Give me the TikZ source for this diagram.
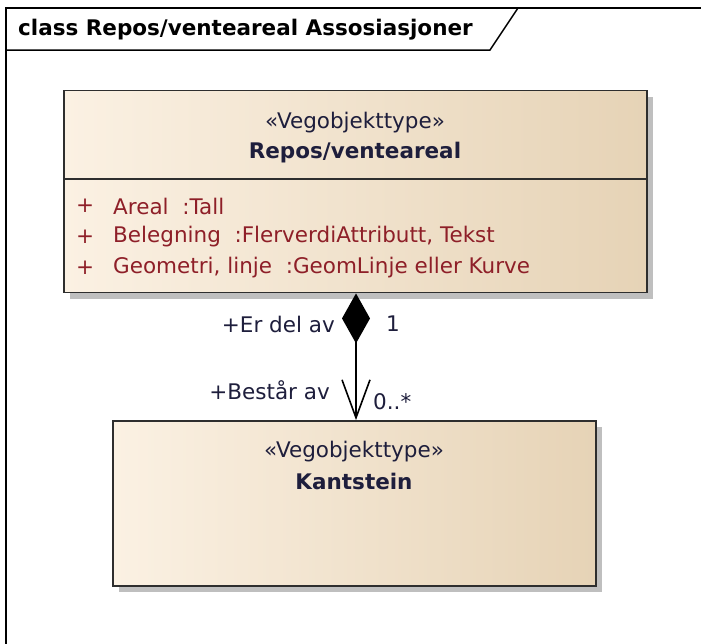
\documentclass[tikz,border=0pt]{standalone}
\usepackage{fontspec}
\setmainfont{DejaVu Sans}
\usetikzlibrary{arrows.meta,shadows}
\definecolor{attr}{HTML}{8E1F28}
\definecolor{lbl}{HTML}{1E1E3C}
\definecolor{fillL}{HTML}{FBF1E3}
\definecolor{fillM}{HTML}{F8ECDB}
\definecolor{fillR}{HTML}{E6D3B6}
\definecolor{edge}{HTML}{2E2E2E}
\tikzset{
  classbox/.style={draw=edge, line width=1.8pt, rectangle, inner sep=0pt,
    left color=fillL, middle color=fillM, right color=fillR,
    drop shadow={shadow xshift=6pt, shadow yshift=-6pt, fill=black!25, opacity=1}},
  txt/.style={inner sep=0pt, font=\fontsize{21.5}{26}\selectfont},
  boldtxt/.style={font=\fontsize{21.5}{26}\selectfont\bfseries},
  attrtxt/.style={txt, text=attr, anchor=west},
  lbltxt/.style={txt, text=lbl}
}
\begin{document}
\begin{tikzpicture}[x=1pt,y=-1pt]
\useasboundingbox (0,0) rectangle (701,643);
\fill[white] (0,0) rectangle (701,643);
% frame
\draw[line width=1.5pt] (6,650) -- (6,8) -- (710,8);
\draw[line width=1.5pt] (6,50) -- (490,50) -- (518,8);
\node[txt, boldtxt, anchor=west] (title) at (18,30) {class Repos/venteareal Assosiasjoner};
% class 1
\node[classbox, minimum width=583pt, minimum height=202pt] (c1) at (355.5,191.5) {};
\draw[edge, line width=1.5pt] (c1.west |- 0,179) -- (c1.east |- 0,179);
\node[lbltxt] (s1) at (355,123) {«Vegobjekttype»};
\node[lbltxt, boldtxt] (n1) at (355,153) {Repos/venteareal};
\node[attrtxt] (p1) at (76,206) {+};
\node[attrtxt] (a1) at (113,206) {Areal\ \ :Tall};
\node[attrtxt] (p2) at (76,237) {+};
\node[attrtxt] (a2) at (113,237) {Belegning\ \ :FlerverdiAttributt, Tekst};
\node[attrtxt] (p3) at (76,268) {+};
\node[attrtxt] (a3) at (113,268) {Geometri, linje\ \ :GeomLinje eller Kurve};
% class 2
\node[classbox, minimum width=483pt, minimum height=165pt] (c2) at (354.5,503.5) {};
\node[lbltxt] (s2) at (354,452) {«Vegobjekttype»};
\node[lbltxt, boldtxt] (n2) at (354,481) {Kantstein};
% connector
\draw[line width=1.6pt, {Diamond[length=50pt,width=28pt,fill=black]}-{Straight Barb[length=38pt,width=28pt,line width=1.6pt]}]
  ([xshift=0.5pt]c1.south) -- ([xshift=0.5pt]c1.south |- c2.north);
\node[lbltxt, anchor=east] (r1) at (335,324) {+Er del av};
\node[lbltxt, anchor=west] (m1) at (386,324) {1};
\node[lbltxt, anchor=east] (r2) at (330,390) {+Består av};
\node[lbltxt, anchor=west] (m2) at (373,402) {0..*};
\end{tikzpicture}
\end{document}
